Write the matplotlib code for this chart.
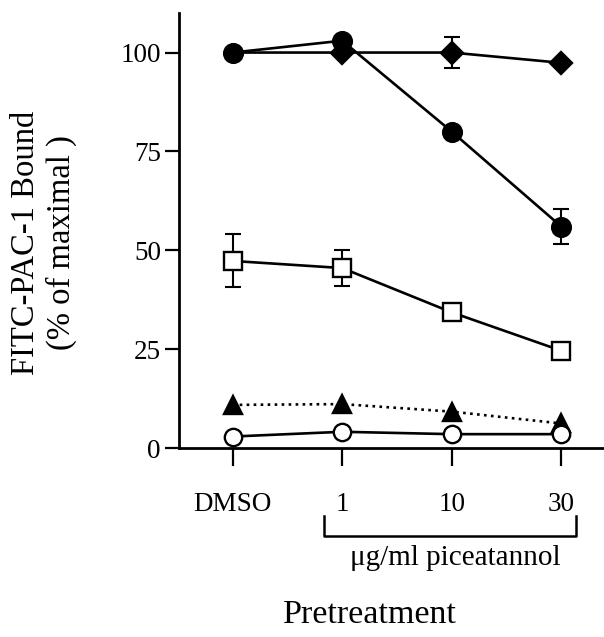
import numpy as np
import matplotlib.pyplot as plt

plt.rcParams['font.family'] = ['Liberation Serif', 'DejaVu Serif']

# x categories (pretreatment)
categories = ['DMSO', '1', '10', '30']

# % of maximal FITC-PAC-1 bound
filled_circle = [100, 103, 80, 56]
filled_circle_err = [0, 0, 0, 4.5]
diamond = [100, 100, 100, 97.4]
diamond_err = [0, 0, 4, 0]
open_square = [47.3, 45.5, 34.3, 24.6]
open_square_err = [6.7, 4.6, 0, 0]
filled_triangle = [10.9, 11.1, 9.2, 6.2]
open_circle = [2.9, 4.1, 3.5, 3.5]

yticks = [0, 25, 50, 75, 100]

fig = plt.figure(figsize=(6.04, 6.37), dpi=100)
ax = fig.add_axes([179 / 604, 189 / 637, 425 / 604, 435 / 637])

x = np.arange(len(categories))
lw = 1.9


def series(y, err, marker, face, ms, ls='-', z=3, every=None):
    if err is not None:
        ax.errorbar(x, y, yerr=err, fmt='none', ecolor='black', elinewidth=1.5,
                    capsize=5.5, capthick=1.5, zorder=z - 1)
    ax.plot(x, y, ls=ls, color='black', lw=lw, marker=marker, ms=ms,
            mfc=face, mec='black', mew=1.7, zorder=z, markevery=every)


# diamond at DMSO is hidden under the filled circle
series(diamond, diamond_err, 'D', 'black', 11, z=3, every=[1, 2, 3])
series(filled_circle, filled_circle_err, 'o', 'black', 13.5, z=4)
series(open_square, open_square_err, 's', 'white', 12.5, z=3)
series(filled_triangle, None, '^', 'black', 13, ls=':', z=3)
series(open_circle, None, 'o', 'white', 12.5, z=4)

ax.set_xlim(-0.49, 3.39)
ax.set_ylim(0, 110)

for s in ['top', 'right']:
    ax.spines[s].set_visible(False)
ax.spines['left'].set_linewidth(2)
ax.spines['bottom'].set_linewidth(2)

ax.set_yticks(yticks)
ax.set_yticklabels([str(t) for t in yticks], fontsize=19.5)
ax.tick_params(axis='y', direction='out', length=10, width=1.6, pad=3)
ax.set_xticks(x)
ax.set_xticklabels(categories, fontsize=19.5)
ax.tick_params(axis='x', direction='out', length=13, width=1.6, pad=19)

# bracket under the piceatannol doses
ax.plot([0.83, 0.83, 3.13, 3.13], [-17.2, -22.2, -22.2, -17.2],
        color='black', lw=1.8, clip_on=False)
ax.text(2.03, -24.6, 'μg/ml piceatannol', fontsize=21, ha='center', va='top')

fig.text(370 / 604, 1 - 615 / 637, 'Pretreatment', fontsize=24.5,
         ha='center', va='center')
fig.text(26 / 604, 1 - 243 / 637, 'FITC-PAC-1 Bound', fontsize=23.5,
         rotation=90, ha='center', va='center')
fig.text(61 / 604, 1 - 243 / 637, '(% of maximal )', fontsize=23.5,
         rotation=90, ha='center', va='center')

fig.savefig('out.png', dpi=100)
